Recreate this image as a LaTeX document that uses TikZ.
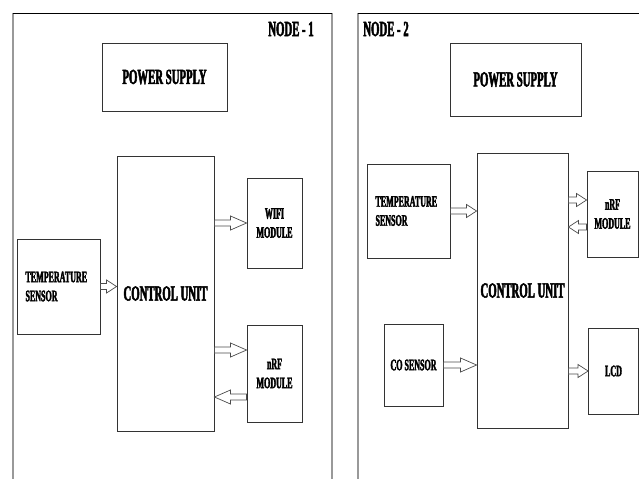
\documentclass[tikz,border=0pt]{standalone}
\usepackage{fontspec}
\newfontfamily\tf[FakeStretch=0.5, FakeBold=2.2, UprightFont={* Bold}]{Liberation Serif}
\usetikzlibrary{calc}
\def\blkS{3}\def\blkH{6.5}\def\blkL{10}
\tikzset{
  panel/.style={draw=black!40, line width=1.4pt},
  paneltop/.style={draw=black, line width=0.9pt},
  box/.style={draw=black!80, line width=0.9pt, inner sep=0pt, align=center,
    font=\tf\fontsize{16}{19}\selectfont},
  bigbox/.style={box, font=\tf\fontsize{21.5}{24}\selectfont},
  lbox/.style={box, align=left, inner xsep=8.5pt},
  title/.style={inner sep=0pt, font=\tf\fontsize{21.5}{24}\selectfont},
  longhead/.code={\def\blkL{16}\def\blkH{7}},
  blk/.style={draw=black!70, line width=0.7pt, fill=white,
    to path={
      ($(\tikztostart)+(0,\blkS)$)
      -- ($(\tikztotarget)!\blkL pt!(\tikztostart)+(0,\blkS)$)
      -- ($(\tikztotarget)!\blkL pt!(\tikztostart)+(0,\blkH)$)
      -- (\tikztotarget)
      -- ($(\tikztotarget)!\blkL pt!(\tikztostart)+(0,-\blkH)$)
      -- ($(\tikztotarget)!\blkL pt!(\tikztostart)+(0,-\blkS)$)
      -- ($(\tikztostart)+(0,-\blkS)$) -- cycle}}
}
\begin{document}
\begin{tikzpicture}[x=1pt,y=-1pt]
\useasboundingbox (0,0) rectangle (639,479);
% panels
\draw[panel] (13,13) -- (13,479);
\draw[panel] (332,13) -- (332,479);
\draw[panel] (358,13) -- (358,479);
\draw[paneltop] (13,13) -- (332,13);
\draw[paneltop] (358,13) -- (639,13);

% ---------- NODE 1 ----------
\node[title] (t1) at (291,29) {NODE - 1};
\node[bigbox, minimum width=125pt, minimum height=68pt] (ps1) at (164.5,77) {POWER SUPPLY};
\node[bigbox, minimum width=97pt, minimum height=275pt] (cu1) at (165.5,293.5) {CONTROL UNIT};
\node[box, minimum width=55pt, minimum height=90pt] (wifi) at (274.5,223) {WIFI\\MODULE};
\node[lbox, text width=66pt, minimum height=95pt] (ts1) at (58.5,286.5) {TEMPERATURE\\SENSOR};
\node[box, minimum width=55pt, minimum height=97pt] (nrf1) at (274.5,373.5) {nRF\\MODULE};

\coordinate (n1a) at ([yshift=23.5pt]nrf1.west);
\coordinate (n1b) at ([yshift=-23.5pt]nrf1.west);
\draw[blk] (ts1.east) to (cu1.west |- ts1.east);
\draw[blk, longhead] (cu1.east |- wifi.west) to (wifi.west);
\draw[blk, longhead] (cu1.east |- n1a) to (n1a);
\draw[blk, longhead] (n1b) to (cu1.east |- n1b);

% ---------- NODE 2 ----------
\node[title] (t2) at (386,29) {NODE - 2};
\node[bigbox, minimum width=131pt, minimum height=73pt] (ps2) at (515.5,79.5) {POWER SUPPLY};
\node[lbox, text width=66pt, minimum height=94pt] (ts2) at (408.5,211) {TEMPERATURE\\SENSOR};
\node[bigbox, minimum width=91pt, minimum height=275pt] (cu2) at (522.5,290.5) {CONTROL UNIT};
\node[box, minimum width=51pt, minimum height=86pt] (nrf2) at (612.5,214) {nRF\\MODULE};
\node[box, minimum width=59pt, minimum height=82pt] (co) at (413.5,365) {CO SENSOR};
\node[box, minimum width=50pt, minimum height=86pt] (lcd) at (613.5,371) {LCD};

\coordinate (n2a) at ([yshift=14pt]nrf2.west);
\coordinate (n2b) at ([yshift=-13pt]nrf2.west);
\draw[blk] (ts2.east) to (cu2.west |- ts2.east);
\draw[blk] (cu2.east |- n2a) to (n2a);
\draw[blk] (n2b) to (cu2.east |- n2b);
\draw[blk, longhead] (co.east) to (cu2.west |- co.east);
\draw[blk] (cu2.east |- lcd.west) to (lcd.west);
\end{tikzpicture}
\end{document}
